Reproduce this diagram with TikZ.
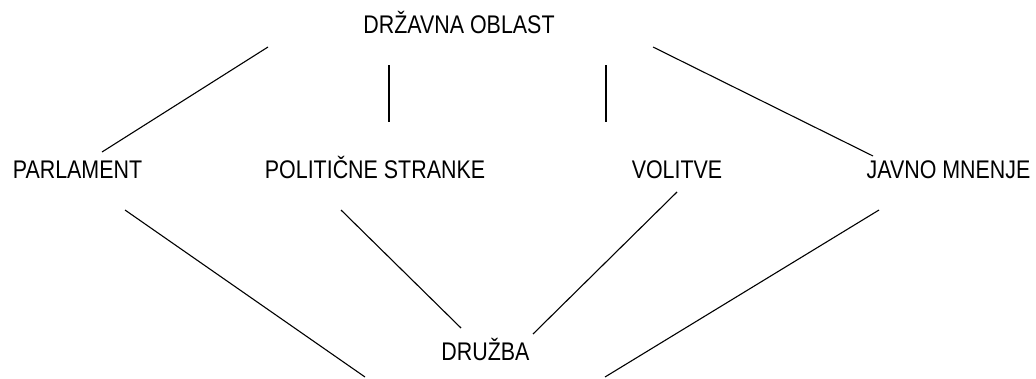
\documentclass[tikz,border=0pt]{standalone}
\usepackage{fontspec}
\setmainfont[FakeStretch=0.84]{Liberation Sans}
\begin{document}
\begin{tikzpicture}[x=1pt,y=-1pt,
  lbl/.style={anchor=base,inner sep=0pt,font=\fontsize{25.5}{25.5}\selectfont},
  conn/.style={line width=1.1pt,black}]
\useasboundingbox (0,0) rectangle (1036,378);
\node[lbl] (top) at (459,33) {DRŽAVNA OBLAST};
\node[lbl] (parl) at (77.5,178) {PARLAMENT};
\node[lbl] (pol) at (375,178) {POLITIČNE STRANKE};
\node[lbl] (vol) at (677,178) {VOLITVE};
\node[lbl] (jav) at (948.5,178) {JAVNO MNENJE};
\node[lbl] (dru) at (485.5,360) {DRUŽBA};
% free ends of connectors
\coordinate (t1) at (268,47);   \coordinate (p1) at (102,152);
\coordinate (t2) at (389,65);   \coordinate (p2) at (389,122);
\coordinate (t3) at (606,65);   \coordinate (p3) at (606,122);
\coordinate (t4) at (653,47);   \coordinate (p4) at (873,156);
\coordinate (q1) at (125,210);  \coordinate (d1) at (365,377);
\coordinate (q2) at (341,210);  \coordinate (d2) at (461,328);
\coordinate (q3) at (677,192);  \coordinate (d3) at (533,334);
\coordinate (q4) at (879,210);  \coordinate (d4) at (605,377);
\draw[conn] (t1) -- (p1);
\draw[conn] (t2) -- (p2);
\draw[conn] (t3) -- (p3);
\draw[conn] (t4) -- (p4);
\draw[conn] (q1) -- (d1);
\draw[conn] (q2) -- (d2);
\draw[conn] (q3) -- (d3);
\draw[conn] (q4) -- (d4);
\end{tikzpicture}
\end{document}
